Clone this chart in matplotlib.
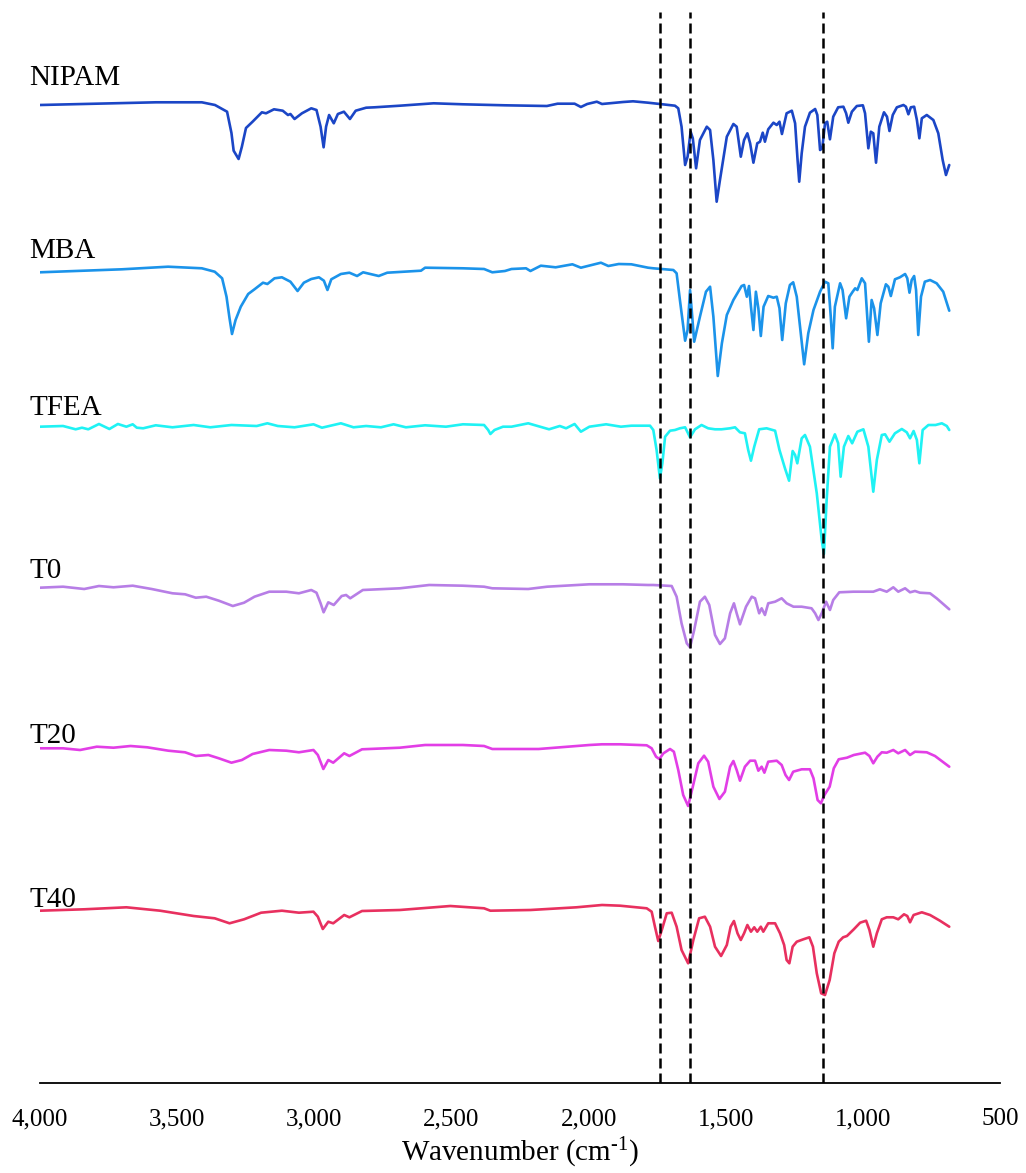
import matplotlib
matplotlib.use("Agg")
import matplotlib.pyplot as plt
import numpy as np

# ---------------- data (wavenumber cm-1, relative transmittance a.u.) ----------------
nipam = [(4000,-1),(3577,1.7),(3410,1.7),(3362,-1),(3318,-7.7),(3302,-29),(3294,-46.7),(3276,-55),
         (3264,-42.7),(3249,-24),(3225,-17.7),(3191,-8.3),(3176,-9.3),(3147,-5.3),(3115,-6.7),(3096,-11),
         (3087,-10),(3072,-15),(3045,-9.3),(3011,-4.3),(2992,-6),(2977,-22.7),(2966,-43.3),(2957,-22.7),
         (2946,-11),(2929,-19.3),(2914,-10),(2892,-7.7),(2870,-15),(2849,-6.7),(2811,-3.7),(2780,-3.3),
         (2688,-1.7),(2565,0.7),(2458,-0.3),(2305,-1.3),(2152,-2),(2113,0.3),(2051,0.3),(2028,-3),
         (2005,0),(1970,2.3),(1951,0),(1874,2),(1838,2.7),(1783,1.3),(1740,0),(1685,-1.7),(1673,-4.3),
         (1661,-22.7),(1648,-61),(1639,-52.7),(1628,-27.7),(1620,-34.3),(1608,-64.3),(1594,-36),
         (1569,-22.7),(1557,-26),(1545,-56),(1533,-97.7),(1521,-76),(1496,-32.7),(1472,-20),(1460,-22.7),
         (1445,-52.7),(1433,-36),(1421,-29.3),(1411,-39.3),(1399,-58.7),(1385,-39.3),(1375,-37.7),
         (1365,-28.7),(1357,-37.7),(1345,-25.3),(1326,-18.7),(1314,-21),(1304,-17.7),(1295,-30),
         (1278,-9.3),(1259,-6.7),(1247,-19.3),(1238,-56),(1232,-77.7),(1223,-49.3),(1211,-22.7),
         (1193,-8.7),(1174,-5),(1166,-11),(1156,-46),(1148,-44.3),(1138,-19.3),(1130,-17.7),(1120,-35.3),
         (1108,-12.7),(1090,-3.3),(1071,-2.7),(1061,-9.3),(1053,-18.7),(1040,-7.7),(1022,-2),(1000,-1.3),
         (992,-9.3),(980,-44.3),(971,-27.7),(962,-29.3),(952,-58.7),(940,-22.7),(923,-8.3),(912,-12.7),
         (903,-27),(891,-11),(876,-3.3),(852,-1),(843,-2.7),(834,-10.3),(825,-3.3),(813,-2.7),(803,-16),
         (794,-34.3),(785,-14.3),(767,-11),(743,-16),(725,-29.3),(709,-56),(697,-71),(685,-61)]

mba = [(4000,-2.3),(3701,0.7),(3533,3.3),(3410,1.7),(3363,-1.7),(3336,-8.3),(3320,-26.7),(3309,-48.3),
       (3300,-64),(3287,-50),(3268,-36.7),(3241,-24),(3218,-19.3),(3187,-12.7),(3171,-14),(3145,-8.3),
       (3118,-7.3),(3087,-11.7),(3061,-21),(3038,-12.7),(3011,-9),(2983,-7.3),(2965,-10.7),(2952,-20),
       (2938,-9.3),(2903,-4),(2872,-2.7),(2844,-6),(2822,-2.3),(2765,-6),(2734,-2.7),(2611,-0.7),
       (2596,2.3),(2458,1.7),(2381,1),(2351,-2.3),(2305,-1),(2281,1),(2228,1.7),(2212,-1),(2174,4.3),
       (2120,2.7),(2059,5.7),(2028,2.3),(1955,7.3),(1928,4),(1890,6),(1844,5.7),(1783,2.3),(1764,1.7),
       (1691,0),(1679,-3.3),(1667,-30),(1648,-70.7),(1639,-60),(1630,-20),(1624,-40),(1615,-71.7),
       (1594,-46.7),(1572,-21.7),(1557,-16.7),(1545,-46.7),(1529,-106),(1514,-73.3),(1496,-45),
       (1472,-30),(1442,-16),(1433,-15),(1423,-26.7),(1415,-16),(1408,-36.7),(1399,-60),(1390,-21.7),
       (1381,-38.3),(1372,-66),(1362,-36.7),(1345,-26),(1326,-27.7),(1314,-26.7),(1304,-38.3),
       (1294,-70),(1281,-33.3),(1266,-15),(1254,-12.3),(1241,-26.7),(1229,-56.7),(1214,-94.3),
       (1199,-63.3),(1180,-40),(1156,-21.7),(1138,-11.7),(1126,-13.3),(1117,-46.7),(1110,-78.3),
       (1102,-36.7),(1083,-13.3),(1074,-20),(1061,-48.3),(1049,-26.7),(1037,-21.7),(1028,-18.3),
       (1020,-20),(1004,-8.3),(992,-13.3),(984,-46.7),(978,-71.7),(968,-30),(959,-38.3),(947,-65),
       (935,-33.3),(916,-14.3),(907,-16.7),(898,-26),(883,-9.3),(865,-7.3),(846,-4),(838,-8.3),
       (830,-22.7),(822,-10),(813,-6),(806,-20),(798,-65),(788,-26.7),(774,-11.7),(755,-10),
       (731,-13.3),(707,-21.7),(685,-40.7)]

tfea = [(4000,0.3),(3916,1),(3870,-2.3),(3847,-0.7),(3824,-2.3),(3785,3),(3747,-2),(3716,3),
        (3685,0.3),(3662,2.7),(3647,-0.7),(3624,-1.3),(3578,1.7),(3517,-0.3),(3440,2),(3379,-0.3),
        (3302,2),(3210,1),(3171,3.7),(3133,1),(3072,-0.3),(3003,2.7),(2972,-0.7),(2903,3.7),
        (2857,-0.3),(2811,1),(2757,-0.3),(2711,2.7),(2666,-0.3),(2596,1.7),(2520,0.3),(2458,2.7),
        (2381,2),(2366,-3),(2358,-7),(2343,-3),(2312,0.3),(2281,0.3),(2220,3.7),(2144,-2.3),
        (2105,1),(2082,-1.3),(2051,3),(2028,-4.7),(1997,0.3),(1936,2.7),(1882,0.3),(1844,1.3),
        (1783,1.3),(1776,1.3),(1764,-3),(1752,-23),(1740,-51.3),(1731,-36.3),(1721,-9.7),(1703,-3.7),
        (1685,-3),(1667,-1.3),(1648,-0.3),(1630,-10.3),(1612,-2.3),(1588,2),(1564,-1.3),(1539,-2.3),
        (1515,-2.3),(1484,-1.3),(1466,-0.3),(1448,-5.3),(1430,-6.3),(1418,-23),(1408,-33.7),
        (1396,-19.7),(1378,-2.3),(1351,-1.3),(1320,-3.7),(1304,-23),(1284,-41.3),(1269,-53.7),
        (1256,-24),(1247,-28),(1239,-36.3),(1223,-11.3),(1211,-8),(1193,-19.7),(1168,-66.3),
        (1150,-113),(1142,-127),(1132,-73),(1120,-19.7),(1102,-7.3),(1090,-16.3),(1081,-49.7),
        (1069,-19.7),(1053,-9),(1039,-16.3),(1020,-4.7),(998,-2.3),(980,-19.7),(962,-64.7),(949,-33),
        (931,-8),(919,-7.3),(903,-14.7),(883,-6.3),(858,-2),(840,-5.3),(828,-11.3),(815,-4),(803,-13),
        (794,-36.3),(782,-3),(761,2),(735,2),(712,3.7),(694,1),(685,-3)]

t0 = [(4000,0.3),(3916,1.3),(3839,-1),(3785,2),(3732,0.7),(3662,2.3),(3593,-1),(3517,-5.3),
      (3471,-6.3),(3432,-9.7),(3394,-8.7),(3348,-12.7),(3297,-18),(3256,-14.7),(3218,-8.7),
      (3164,-3.7),(3102,-3.7),(3056,-5.3),(3011,-2),(2992,-4.7),(2977,-15.3),(2966,-24.3),
      (2949,-14.3),(2929,-17),(2900,-8),(2884,-7),(2869,-10.3),(2823,-2),(2688,-0.3),(2581,3),
      (2458,2.3),(2381,1.3),(2351,-0.3),(2220,-1),(2151,1.3),(1997,3.7),(1875,3.7),(1783,3),
      (1764,3),(1697,2),(1679,-8.7),(1661,-35.3),(1642,-55.3),(1630,-59.3),(1615,-42),(1594,-13.7),
      (1576,-8.7),(1560,-17),(1539,-47),(1521,-56),(1503,-50.3),(1484,-25.3),(1470,-15.3),
      (1460,-25.3),(1448,-36.3),(1426,-18.7),(1405,-8.7),(1393,-10.3),(1378,-25.3),(1369,-20.3),
      (1357,-27),(1345,-15.3),(1320,-13.7),(1296,-10.3),(1278,-15.3),(1253,-18.7),(1223,-18.7),
      (1187,-20.3),(1174,-25.3),(1162,-32),(1150,-25.3),(1134,-13.7),(1120,-22),(1108,-12),
      (1086,-4.3),(1035,-3.7),(962,-3.7),(938,-1.3),(913,-3.7),(889,0.7),(871,-3.7),(846,-0.3),
      (828,-4.3),(810,-3),(792,-4.7),(755,-5.3),(731,-10.3),(685,-21.3)]

t20 = [(4000,-0.3),(3916,-0.3),(3854,-2),(3793,1.3),(3732,0.3),(3670,2),(3609,0.7),(3532,-2.7),
       (3471,-4.3),(3432,-8),(3386,-7),(3348,-10.3),(3302,-14.7),(3264,-12),(3225,-6),(3164,-2),
       (3102,-2.7),(3056,-4.3),(3003,-2),(2987,-7),(2967,-21),(2949,-12),(2931,-14.7),(2891,-5.3),
       (2872,-8),(2826,-1.3),(2688,0.3),(2596,3),(2458,3),(2381,2),(2351,-1),(2182,-1),(1997,3),
       (1951,3.7),(1885,3.7),(1788,2.7),(1770,-0.3),(1754,-8.7),(1742,-11),(1727,-5.3),(1703,-1),
       (1689,-3.7),(1673,-22),(1655,-47),(1637,-58),(1620,-38.7),(1600,-15.3),(1579,-7.7),
       (1564,-13.7),(1545,-38.7),(1523,-51),(1503,-43.7),(1484,-18.7),(1472,-13),(1460,-22),
       (1448,-32.7),(1430,-18.7),(1411,-12.7),(1393,-12.7),(1381,-22.7),(1369,-18.7),(1359,-24.7),
       (1345,-13.7),(1314,-12.7),(1296,-17),(1282,-27),(1269,-32),(1254,-23.7),(1223,-21.3),
       (1193,-21.3),(1180,-30.3),(1165,-52),(1153,-55.3),(1140,-47),(1121,-38.7),(1106,-20.3),
       (1088,-11.3),(1058,-9.7),(1033,-7),(992,-4.7),(976,-8),(962,-15.3),(947,-8.7),(931,-4.3),
       (913,-4.7),(889,-2),(871,-5.3),(846,-2),(828,-7),(810,-3.7),(767,-4.3),(737,-8),(685,-18.7)]

t40 = [(4000,-0.7),(3839,0.7),(3685,2.7),(3562,-0.7),(3440,-6),(3363,-8.3),(3309,-13.3),(3256,-9.3),
       (3194,-2.7),(3118,-0.7),(3056,-2.7),(3003,-1.7),(2987,-6.7),(2969,-19),(2949,-11.7),
       (2931,-13.3),(2891,-5),(2872,-7.3),(2826,-1),(2688,0),(2504,4),(2381,1.7),(2358,-0.7),
       (2212,0),(2044,2.7),(1951,5),(1885,4.3),(1788,1.7),(1770,-1.7),(1758,-16.7),(1746,-31),
       (1733,-20),(1715,-3.3),(1697,-2.7),(1679,-16.7),(1661,-40),(1637,-53.3),(1618,-30),(1597,-8.3),
       (1576,-6.7),(1557,-16.7),(1539,-36.7),(1517,-46),(1496,-35),(1482,-16.7),(1470,-11),
       (1457,-23.3),(1445,-30),(1433,-23.3),(1421,-15),(1408,-21.7),(1396,-17.3),(1385,-21.7),
       (1372,-16.7),(1363,-21.7),(1345,-13.3),(1320,-13.3),(1302,-23.3),(1287,-35),(1278,-50),
       (1268,-53.3),(1256,-36.7),(1241,-31.7),(1217,-29.3),(1195,-27.3),(1182,-36.7),(1168,-63.3),
       (1152,-83.3),(1138,-85),(1121,-70),(1104,-43.3),(1088,-31.7),(1072,-27.3),(1058,-26),
       (1033,-19.3),(1010,-12.7),(988,-10.7),(976,-20),(962,-36.7),(949,-23.3),(931,-9.3),(913,-7.3),
       (889,-7.3),(871,-9.3),(850,-4.3),(838,-6),(828,-12.3),(815,-5),(785,-2.3),(755,-5),
       (719,-10.7),(685,-16.7)]

names = ["NIPAM", "MBA", "TFEA", "T0", "T20", "T40"]
spectra = [nipam, mba, tfea, t0, t20, t40]
offsets = [979, 813, 656, 495, 335, 173]          # vertical stacking offsets (a.u.)
label_y = [998, 825, 668, 505, 340, 176]
colors = ["#1b46c6", "#1b93ea", "#1ff2f4", "#b77ee6", "#e23ee6", "#e8305f"]
ref_lines = [1740, 1630, 1145]                     # marked bands (cm-1)
xticks = [4000, 3500, 3000, 2500, 2000, 1500, 1000, 500]
xticklabels = ["4,000", "3,500", "3,000", "2,500", "2,000", "1,500", "1,000", "500"]

# ---------------- figure ----------------
plt.rcParams["font.family"] = ["Liberation Serif", "DejaVu Serif"]
plt.rcParams["mathtext.fontset"] = "custom"
plt.rcParams["mathtext.rm"] = "Liberation Serif"
plt.rcParams["mathtext.it"] = "Liberation Serif:italic"

W, H = 1026, 1173
fig = plt.figure(figsize=(W / 100, H / 100), dpi=100)
ax = fig.add_axes([40 / W, (H - 1083) / H, 960 / W, (1083 - 12) / H])

for name, sp, off, ly, c in zip(names, spectra, offsets, label_y, colors):
    wn = np.array([p[0] for p in sp], dtype=float)
    t = np.array([p[1] for p in sp], dtype=float)
    ax.plot(wn, t + off, color=c, lw=1.9, solid_joinstyle="round", solid_capstyle="round", zorder=3)
    ax.text(4038, ly, name, fontsize=21, ha="left", va="baseline", color="black")

for xv in ref_lines:
    ax.axvline(xv, color="black", lw=1.8, linestyle=(0, (4.0, 2.0)), zorder=4)

ax.set_xlim(4000, 500)
ax.set_ylim(0, 1071)
ax.set_xticks(xticks)
ax.set_xticklabels(xticklabels, fontsize=18)
ax.set_yticks([])
for s in ["top", "right", "left"]:
    ax.spines[s].set_visible(False)
ax.spines["bottom"].set_linewidth(1.3)
ax.tick_params(axis="x", length=0, pad=18)
try:
    ax.set_xlabel(r"Wavenumber (cm$^{\text{-1}}$)", fontsize=21, labelpad=4)
    fig.canvas.draw()
except Exception:
    ax.set_xlabel("Wavenumber (cm$^{-1}$)", fontsize=21, labelpad=4)

fig.savefig("out.png", dpi=100)
